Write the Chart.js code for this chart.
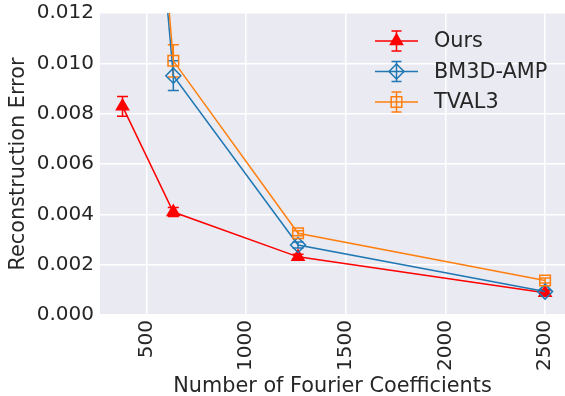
<!DOCTYPE html>
<html>
<head>
<meta charset="utf-8">
<script src="https://cdn.jsdelivr.net/npm/chart.js@4.4.1/dist/chart.umd.min.js"></script>
<style>
  html, body { margin: 0; padding: 0; background: #fff; }
  #wrap { width: 565px; height: 396px; }
</style>
</head>
<body>
<div id="wrap"><canvas id="myChart" width="565" height="396"></canvas></div>
<script>
// data
const xValues = [379, 634, 1260, 2500];
const oursValues = [0.00829, 0.00409, 0.00231, 0.00088];
const oursErr = [0.00039, 0.00018, 0.00010, 0.00008];
const bm3dValues = [0.0325, 0.00951, 0.00278, 0.00093];
const bm3dErr = [0.0, 0.00059, 0.00012, 0.00008];
const tval3Values = [0.0342, 0.01010, 0.00325, 0.00137];
const tval3Err = [0.0, 0.00064, 0.00010, 0.00010];
const xTicks = [500, 1000, 1500, 2000, 2500];
const yTicks = [0, 0.002, 0.004, 0.006, 0.008, 0.010, 0.012];

const fontSize = 20;
const labelSize = 20.8;
const textColor = '#262626';
Chart.defaults.font.family = "'DejaVu Sans'";
Chart.defaults.font.size = fontSize;
Chart.defaults.color = textColor;

const toPoints = (ys) => xValues.map((x, i) => ({ x: x, y: ys[i] }));

const series = [
  { label: 'Ours', values: oursValues, err: oursErr, color: '#ff0000', style: 'triangle', radius: 7, fill: true },
  { label: 'BM3D-AMP', values: bm3dValues, err: bm3dErr, color: '#1f77b4', style: 'rectRot', radius: 7.5, fill: false },
  { label: 'TVAL3', values: tval3Values, err: tval3Err, color: '#ff7f0e', style: 'rect', radius: 7.5, fill: false }
];

// background of the plot area
const bgPlugin = {
  id: 'bg',
  beforeDraw: function (chart) {
    const a = chart.chartArea;
    const ctx = chart.ctx;
    ctx.save();
    ctx.fillStyle = '#eaeaf2';
    ctx.fillRect(a.left, a.top, a.right - a.left, a.bottom - a.top);
    ctx.restore();
  }
};

// error bars, drawn with the chart's own scales
const errPlugin = {
  id: 'errbars',
  beforeDatasetsDraw: function (chart) {
    const ctx = chart.ctx;
    const a = chart.chartArea;
    const xs = chart.scales.x, ys = chart.scales.y;
    ctx.save();
    ctx.beginPath();
    ctx.rect(a.left, a.top, a.right - a.left, a.bottom - a.top);
    ctx.clip();
    series.forEach(function (s) {
      ctx.strokeStyle = s.color;
      ctx.lineWidth = 1.5;
      s.values.forEach(function (v, i) {
        if (!s.err[i]) return;
        const px = xs.getPixelForValue(xValues[i]);
        const top = ys.getPixelForValue(v + s.err[i]);
        const bot = ys.getPixelForValue(v - s.err[i]);
        ctx.beginPath();
        ctx.moveTo(px, top); ctx.lineTo(px, bot);
        ctx.moveTo(px - 5.5, top); ctx.lineTo(px + 5.5, top);
        ctx.moveTo(px - 5.5, bot); ctx.lineTo(px + 5.5, bot);
        ctx.stroke();
      });
    });
    ctx.restore();
  }
};

// legend inside the plot, matplotlib look
const legendPlugin = {
  id: 'mplLegend',
  afterDraw: function (chart) {
    const ctx = chart.ctx;
    const a = chart.chartArea;
    const x0 = a.right - 190, x1 = a.right - 147, xm = (x0 + x1) / 2;
    ctx.save();
    series.forEach(function (s, k) {
      const y = a.top + 28 + k * 30.5;
      ctx.strokeStyle = s.color;
      ctx.lineWidth = 1.5;
      ctx.beginPath();
      ctx.moveTo(x0, y); ctx.lineTo(x1, y);
      ctx.moveTo(xm, y - 10); ctx.lineTo(xm, y + 10);
      ctx.moveTo(xm - 5, y - 10); ctx.lineTo(xm + 5, y - 10);
      ctx.moveTo(xm - 5, y + 10); ctx.lineTo(xm + 5, y + 10);
      ctx.stroke();
      ctx.fillStyle = s.fill ? s.color : 'rgba(0,0,0,0)';
      Chart.helpers.drawPoint(ctx, { pointStyle: s.style, radius: s.radius, borderWidth: 1.5, rotation: 0 }, xm, y);
      ctx.fillStyle = textColor;
      ctx.font = labelSize + "px 'DejaVu Sans'";
      ctx.textBaseline = 'middle';
      ctx.textAlign = 'left';
      ctx.fillText(s.label, x1 + 16, y + 1);
    });
    ctx.restore();
  }
};

const datasets = series.map(function (s, k) {
  return {
    label: s.label,
    data: toPoints(s.values),
    borderColor: s.color,
    borderWidth: 1.5,
    backgroundColor: s.fill ? s.color : 'rgba(0,0,0,0)',
    pointStyle: s.style,
    pointRadius: s.radius,
    pointBorderWidth: 1.5,
    pointBorderColor: s.color,
    pointBackgroundColor: s.fill ? s.color : 'rgba(0,0,0,0)',
    tension: 0,
    order: 3 - k
  };
});

const Config = {
  type: 'line',
  data: { datasets: datasets },
  plugins: [bgPlugin, errPlugin, legendPlugin],
  options: {
    responsive: false,
    animation: false,
    layout: { autoPadding: false, padding: { left: 0, right: 0, top: 0, bottom: 0 } },
    plugins: {
      legend: { display: false },
      tooltip: { enabled: false }
    },
    scales: {
      x: {
        type: 'linear',
        min: 266,
        max: 2600,
        afterBuildTicks: function (scale) {
          scale.ticks = xTicks.map(function (v) { return { value: v }; });
        },
        afterFit: function (scale) {
          scale.height = 81;
          scale.paddingLeft = 0;
          scale.paddingRight = 0;
        },
        ticks: {
          minRotation: 90,
          maxRotation: 90,
          padding: 5,
          color: textColor,
          callback: function (v) { return String(v); }
        },
        grid: { color: '#ffffff', lineWidth: 1.5, drawTicks: false },
        border: { display: false },
        title: {
          display: true,
          text: 'Number of Fourier Coefficients',
          color: textColor,
          font: { size: labelSize, lineHeight: 1 },
          padding: { top: 0, bottom: -1 }
        }
      },
      y: {
        type: 'linear',
        min: 0,
        max: 0.012,
        afterBuildTicks: function (scale) {
          scale.ticks = yTicks.map(function (v) { return { value: v }; });
        },
        afterFit: function (scale) {
          scale.width = 100;
          scale.paddingTop = 13;
          scale.paddingBottom = 0;
        },
        ticks: {
          padding: 6,
          color: textColor,
          callback: function (v) { return v.toFixed(3); }
        },
        grid: { color: '#ffffff', lineWidth: 1.5, drawTicks: false },
        border: { display: false },
        title: {
          display: true,
          text: 'Reconstruction Error',
          color: textColor,
          font: { size: labelSize, lineHeight: 1 },
          padding: { top: 8, bottom: 0 }
        }
      }
    }
  }
};

const myChart = new Chart(document.getElementById('myChart'), Config);
</script>
</body>
</html>
